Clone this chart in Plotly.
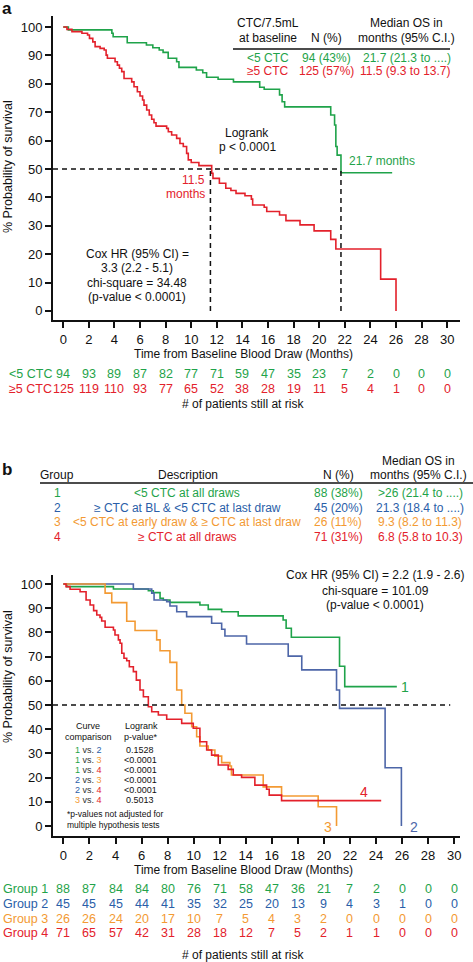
import plotly.graph_objects as go

W, H = 473, 962
FONT = "Liberation Sans, Arial, Helvetica, sans-serif"
GREEN = "#1fa34a"
RED = "#e3212b"
BLUE_LINE = "#4d66a8"
BLUE_TXT = "#2a5ea8"
ORANGE = "#f39a33"
BLACK = "#111111"

# ---------------- Panel a data ----------------
a_lt5_t = [0, 0.4, 3.8, 3.9, 5.0, 6.5, 7.0, 7.5, 7.8, 8.2, 8.86, 9.04, 10.4, 10.9, 11.2, 12.1, 13.3,
           15.35, 15.7, 16.9, 17.1, 17.3, 20.9, 21.2, 21.3, 21.4, 21.7, 25.7]
a_lt5_s = [100, 99.0, 97.8, 96.6, 94.5, 93.7, 92.7, 91.9, 91.1, 89.0, 87.8, 85.8, 84.9, 83.9, 82.3, 81.6, 80.7,
           78.8, 78.1, 76.1, 73.7, 71.9, 69.0, 65.5, 57.9, 54.9, 48.7, 48.7]

a_ge5_t = [0, 0.29, 0.68, 1.46, 1.9, 2.05, 2.31, 2.49, 2.88, 3.2, 3.35, 3.45, 4.05, 4.23, 4.39, 4.57, 4.75,
           5.35, 5.53, 5.79, 6.0, 6.2, 6.31, 6.52, 6.72, 6.91, 7.09, 7.25, 8.08, 8.21, 8.47, 8.86, 9.12,
           9.38, 9.64, 9.77, 10.0, 10.6, 11.6, 11.7, 12.2, 12.7, 13.1, 13.5, 14.2, 14.7, 14.8, 15.7, 15.9,
           16.9, 17.4, 18.5, 19.6, 20.9, 21.3, 24.8, 26.0]
a_ge5_s = [100, 99.2, 98.4, 97.8, 97.2, 96.0, 94.8, 93.1, 92.5, 91.9, 90.1, 89.0, 87.8, 86.6, 85.5, 84.3, 81.9,
           80.7, 79.0, 77.2, 75.7, 74.3, 72.5, 70.8, 69.0, 67.5, 66.3, 65.1, 64.3, 63.1, 62.0, 60.8, 59.0,
           57.9, 55.5, 53.2, 52.3, 51.2, 48.5, 46.7, 45.0, 43.2, 42.4, 41.4, 40.6, 39.4, 37.3, 36.5, 35.0,
           33.8, 31.8, 30.3, 28.2, 25.2, 21.8, 11.2, 0]

a_medians = [21.7, 11.5]  # <5 CTC, >=5 CTC

risk_times = list(range(0, 31, 2))
a_risk_lt5 = [94, 93, 89, 87, 82, 77, 71, 59, 47, 35, 23, 7, 2, 0, 0, 0]
a_risk_ge5 = [125, 119, 110, 93, 77, 65, 52, 38, 28, 19, 11, 5, 4, 1, 0, 0]

# ---------------- Panel b data ----------------
g1_t = [0, 0.26, 3.84, 6.52, 6.9, 7.42, 7.67, 8.18, 10.48, 11.12, 12.15, 13.42, 16.87, 17.1, 17.5, 21.2, 21.6, 25.6]
g1_s = [100, 98.9, 97.9, 97.2, 96.4, 94.1, 93.4, 92.4, 91.3, 89.5, 88.5, 86.8, 85.1, 81.7, 78.0, 66.0, 57.6, 57.6]

g2_t = [0, 5.37, 6.78, 6.96, 7.93, 8.18, 8.7, 9.46, 11.38, 12.15, 12.4, 14.06, 17.26, 18.3, 20.97, 21.2, 24.7, 25.95]
g2_s = [100, 97.9, 96.2, 93.4, 92.7, 90.9, 88.5, 86.5, 83.8, 81.3, 78.5, 75.2, 70.2, 64.5, 56.2, 48.6, 24.1, 0]

g3_t = [0, 3.2, 3.71, 4.86, 5.5, 7.16, 7.42, 8.18, 8.7, 9.08, 9.33, 9.85, 10.23, 10.48, 11.12, 11.63, 12.15,
        12.78, 12.9, 15.34, 16.75, 19.56, 20.97]
g3_s = [100, 96.2, 92.3, 84.6, 80.8, 76.9, 72.4, 67.6, 56.2, 50.0, 46.6, 41.0, 36.9, 33.1, 31.4, 28.9, 26.2,
        24.8, 21.1, 16.2, 12.4, 8.0, 0]

g4_t = [0, 0.2, 0.51, 1.28, 1.74, 2.05, 2.32, 2.56, 2.81, 2.94, 3.2, 3.84, 3.96, 4.22, 4.35, 4.48, 4.65, 4.86,
        5.06, 5.37, 5.6, 5.88, 6.14, 6.52, 6.78, 7.29, 7.93, 9.08, 9.97, 10.48, 11.0, 11.38, 11.89, 12.65,
        13.04, 13.68, 14.7, 15.6, 15.8, 16.75, 24.4]
g4_s = [100, 98.9, 97.8, 96.8, 93.4, 91.3, 89.0, 87.2, 86.2, 84.7, 82.1, 81.0, 78.9, 76.9, 75.5, 71.4, 69.3, 68.3,
        65.8, 63.8, 60.3, 56.2, 53.4, 49.3, 47.2, 45.9, 44.1, 42.4, 40.4, 34.8, 31.4, 29.3, 25.2, 23.4,
        21.1, 20.1, 16.9, 15.2, 12.8, 10.5, 10.5]

b_risk_g1 = [88, 87, 84, 84, 80, 76, 71, 58, 47, 36, 21, 7, 2, 0, 0, 0]
b_risk_g2 = [45, 45, 45, 44, 41, 35, 32, 25, 20, 13, 9, 4, 3, 1, 0, 0]
b_risk_g3 = [26, 26, 24, 20, 17, 10, 7, 5, 4, 3, 2, 0, 0, 0, 0, 0]
b_risk_g4 = [71, 65, 57, 42, 31, 28, 18, 12, 7, 5, 2, 1, 1, 0, 0, 0]

b_groups = ["1", "2", "3", "4"]
b_desc = ["<5 CTC at all draws", "\u2265 CTC at BL & <5 CTC at last draw",
          "<5 CTC at early draw & \u2265 CTC at last draw", "\u2265 CTC at all draws"]
b_n = ["88 (38%)", "45 (20%)", "26 (11%)", "71 (31%)"]
b_median = [">26 (21.4 to ....)", "21.3 (18.4 to ....)", "9.3 (8.2 to 11.3)", "6.8 (5.8 to 10.3)"]
b_colors_txt = [GREEN, BLUE_TXT, ORANGE, RED]

pairs = [("1", "2"), ("1", "3"), ("1", "4"), ("2", "3"), ("2", "4"), ("3", "4")]
pair_p = ["0.1528", "<0.0001", "<0.0001", "<0.0001", "<0.0001", "0.5013"]


def X(p):
    return p / W


def Y(p):
    return 1 - p / H


fig = go.Figure()

def add_curve(t, s, color, xa, ya):
    fig.add_trace(go.Scatter(x=t, y=s, mode="lines", line=dict(color=color, width=1.6, shape="hv"),
                             xaxis=xa, yaxis=ya, hoverinfo="skip"))

add_curve(a_lt5_t, a_lt5_s, GREEN, "x", "y")
add_curve(a_ge5_t, a_ge5_s, RED, "x", "y")
add_curve(g1_t, g1_s, GREEN, "x2", "y2")
add_curve(g2_t, g2_s, BLUE_LINE, "x2", "y2")
add_curve(g3_t, g3_s, ORANGE, "x2", "y2")
add_curve(g4_t, g4_s, RED, "x2", "y2")

axis_common = dict(showline=True, linecolor=BLACK, linewidth=2, ticks="outside", ticklen=6, tickwidth=1.5,
                   tickcolor=BLACK, showgrid=False, zeroline=False,
                   tickfont=dict(family=FONT, size=13, color=BLACK))

DASH = dict(color=BLACK, width=1.5, dash="5px,4px")
shapes = []
annotations = []

def ann(x, y, text, xanchor="center", size=12, color=BLACK, xref="paper", yref="paper", **kw):
    annotations.append(dict(x=x, y=y, xref=xref, yref=yref, text=text, showarrow=False, xanchor=xanchor,
                            yanchor="middle", font=dict(family=FONT, size=size, color=color), **kw))

# dashed median lines panel a
a_xr = [-0.8, 31.0]
shapes.append(dict(type="line", xref="x", yref="y", x0=a_xr[0], x1=a_medians[0], y0=50, y1=50, line=DASH))
for m in a_medians:
    shapes.append(dict(type="line", xref="x", yref="y", x0=m, x1=m, y0=0, y1=50, line=DASH))
# dashed line panel b
b_xr = [-0.8, 30.45]
shapes.append(dict(type="line", xref="x2", yref="y2", x0=b_xr[0], x1=29.7, y0=50, y1=50, line=DASH))

# table lines
shapes.append(dict(type="line", xref="paper", yref="paper", x0=X(233), x1=X(450), y0=Y(49), y1=Y(49),
                   line=dict(color=BLACK, width=1.5)))
shapes.append(dict(type="line", xref="paper", yref="paper", x0=X(40), x1=X(473), y0=Y(483), y1=Y(483),
                   line=dict(color=BLACK, width=1.5)))

# panel labels
annotations.append(dict(x=X(0), y=Y(8), xref="paper", yref="paper", text="<b>a</b>", showarrow=False,
                        xanchor="left", yanchor="middle", font=dict(family=FONT, size=17, color=BLACK)))
annotations.append(dict(x=X(0), y=Y(469), xref="paper", yref="paper", text="<b>b</b>", showarrow=False,
                        xanchor="left", yanchor="middle", font=dict(family=FONT, size=17, color=BLACK)))

# panel a table
ann(X(268), Y(23), "CTC/7.5mL")
ann(X(268), Y(38), "at baseline")
ann(X(326), Y(38), "N (%)")
ann(X(406), Y(23), "Median OS in")
ann(X(406), Y(38), "months (95% C.I.)")
ann(X(291), Y(58), "<5 CTC", xanchor="right", color=GREEN)
ann(X(326), Y(58), "94 (43%)", color=GREEN)
ann(X(407), Y(58), "21.7 (21.3 to ....)", color=GREEN)
ann(X(291), Y(71), "\u22655 CTC", xanchor="right", color=RED)
ann(X(326), Y(71), "125 (57%)", color=RED)
ann(X(405), Y(71), "11.5 (9.3 to 13.7)", color=RED)

ann(X(247), Y(133), "Logrank")
ann(X(247), Y(147), "p < 0.0001")
ann(X(207), Y(180), "11.5", xanchor="right", color=RED)
ann(X(207), Y(194), "months", xanchor="right", color=RED)
ann(X(347), Y(161), "21.7 months", xanchor="left", color=GREEN)
ann(X(137), Y(254), "Cox HR (95% CI) =")
ann(X(137), Y(268), "3.3 (2.2 - 5.1)")
ann(X(137), Y(283), "chi-square = 34.48")
ann(X(137), Y(297), "(p-value < 0.0001)")

# axis titles
ann(X(8), Y(167), "% Probability of survival", textangle=-90, size=12.5)
ann(X(8), Y(677), "% Probability of survival", textangle=-90, size=12.5)
ann(X(243), Y(354), "Time from Baseline Blood Draw (Months)")
ann(X(243), Y(870), "Time from Baseline Blood Draw (Months)")

# risk table a
ann(X(54), Y(374), "<5 CTC", xanchor="right", color=GREEN, size=12.5)
ann(X(54), Y(389), "\u22655 CTC", xanchor="right", color=RED, size=12.5)
for t, v1, v2 in zip(risk_times, a_risk_lt5, a_risk_ge5):
    ann(t, Y(374), str(v1), xref="x", color=GREEN, size=12.5)
    ann(t, Y(389), str(v2), xref="x", color=RED, size=12.5)
ann(X(243), Y(404), "# of patients still at risk")

# panel b table
ann(X(57), Y(475), "Group")
ann(X(188), Y(475), "Description")
ann(X(338), Y(475), "N (%)")
ann(X(418), Y(461), "Median OS in")
ann(X(418), Y(475), "months (95% C.I.)")
row_y = [493, 508, 522, 537]
for i in range(4):
    c = b_colors_txt[i]
    ann(X(57), Y(row_y[i]), b_groups[i], color=c)
    ann(X(187), Y(row_y[i]), b_desc[i], color=c)
    ann(X(338), Y(row_y[i]), b_n[i], color=c)
    ann(X(420), Y(row_y[i]), b_median[i], color=c)

ann(X(375), Y(575), "Cox HR (95% CI) = 2.2 (1.9 - 2.6)")
ann(X(375), Y(591), "chi-square = 101.09")
ann(X(375), Y(605), "(p-value < 0.0001)")

# inset comparison table
grp_color = {"1": GREEN, "2": BLUE_TXT, "3": ORANGE, "4": RED}
ann(X(88), Y(726), "Curve", size=9)
ann(X(88), Y(737), "comparison", size=9)
ann(X(141), Y(726), "Logrank", size=9)
ann(X(141), Y(737), "p-value*", size=9)
for i, ((a, b), p) in enumerate(zip(pairs, pair_p)):
    yy = 750 + 10 * i
    txt = '<span style="color:%s">%s</span> vs. <span style="color:%s">%s</span>' % (
        grp_color[a], a, grp_color[b], b)
    ann(X(88), Y(yy), txt, size=9, color="#333333")
    ann(X(140), Y(yy), p, size=9)
ann(X(65), Y(814), "*p-values not adjusted for", xanchor="left", size=8.5)
ann(X(65), Y(825), "multiple hypothesis tests", xanchor="left", size=8.5)

# curve labels
ann(X(405), Y(687), "1", size=14, color=GREEN)
ann(X(364), Y(792), "4", size=14, color=RED)
ann(X(328), Y(827), "3", size=14, color=ORANGE)
ann(X(414), Y(827), "2", size=14, color=BLUE_LINE)

# risk table b
b_rows = [("Group 1", b_risk_g1, GREEN, 889), ("Group 2", b_risk_g2, BLUE_TXT, 904),
          ("Group 3", b_risk_g3, ORANGE, 919), ("Group 4", b_risk_g4, RED, 933)]
for lab, vals, c, yy in b_rows:
    ann(X(1), Y(yy), lab, xanchor="left", color=c, size=12.5)
    for t, v in zip(risk_times, vals):
        ann(t, Y(yy), str(v), xref="x2", color=c, size=12.5)
ann(X(243), Y(955), "# of patients still at risk")

fig.update_layout(
    width=W, height=H, autosize=False,
    margin=dict(l=0, r=0, t=0, b=0),
    paper_bgcolor="white", plot_bgcolor="white",
    showlegend=False,
    xaxis=dict(domain=[X(53), X(460)], range=a_xr, anchor="y", tickvals=risk_times, **axis_common),
    yaxis=dict(domain=[Y(320), Y(16)], range=[-3.2, 103.9], anchor="x", tickvals=list(range(0, 101, 10)),
               **axis_common),
    xaxis2=dict(domain=[X(53), X(460)], range=b_xr, anchor="y2", tickvals=risk_times, **axis_common),
    yaxis2=dict(domain=[Y(836), Y(575)], range=[-4.1, 103.7], anchor="x2", tickvals=list(range(0, 101, 10)),
                **axis_common),
    shapes=shapes,
    annotations=annotations,
)

fig.write_html(
    "out.html",
    config={"displayModeBar": False},
    post_script="document.body.style.margin='0';document.body.style.padding='0';"
                "document.body.style.overflow='hidden';document.documentElement.style.overflow='hidden';",
)
